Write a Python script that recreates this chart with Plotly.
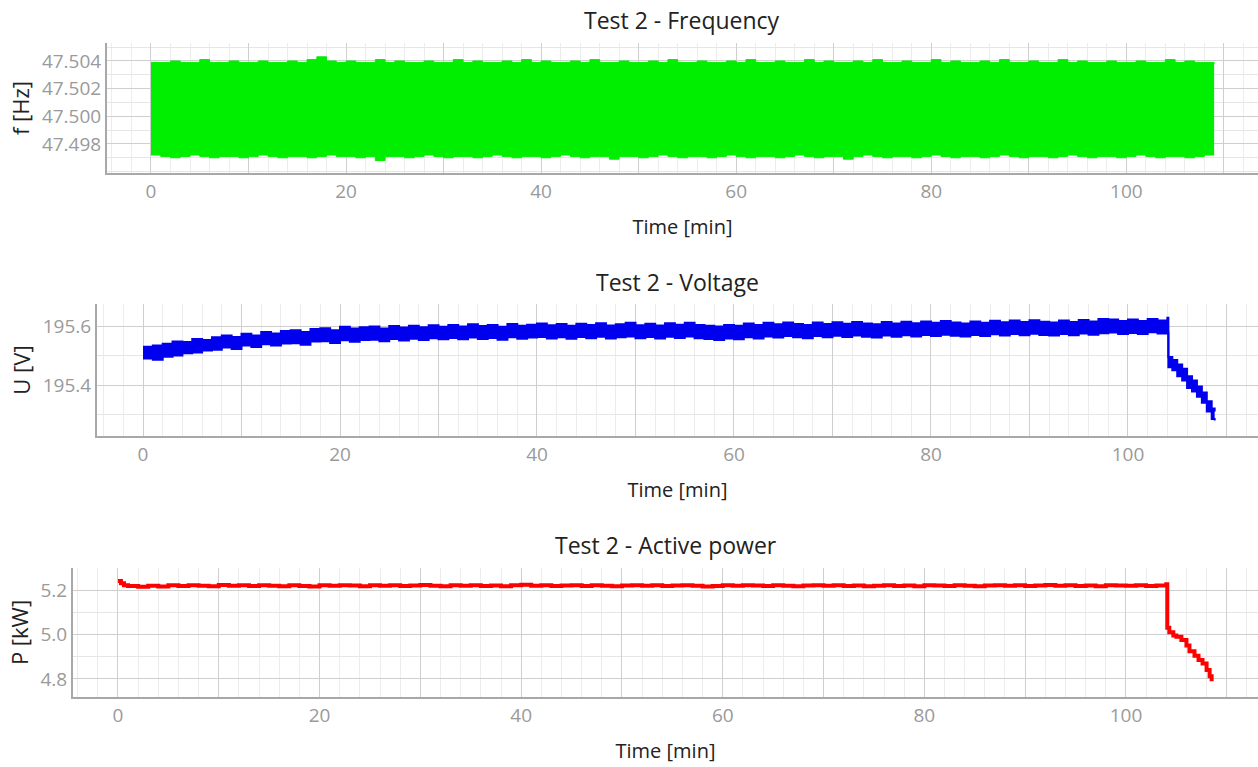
import plotly.graph_objects as go

W, H = 1258, 767

# ---------------- data ----------------
# Frequency band (envelope of the dense signal), sampled each minute
t_f = list(range(0, 110))
f_upper = [
    47.5039, 47.5039, 47.5040, 47.5039, 47.5039, 47.5041, 47.5039, 47.5039, 47.5040, 47.5039,
    47.5039, 47.5040, 47.5039, 47.5039, 47.5040, 47.5039, 47.5041, 47.5043, 47.5040, 47.5039,
    47.5040, 47.5039, 47.5039, 47.5041, 47.5039, 47.5040, 47.5039, 47.5039, 47.5040, 47.5039,
    47.5039, 47.5041, 47.5039, 47.5040, 47.5039, 47.5039, 47.5040, 47.5039, 47.5041, 47.5039,
    47.5040, 47.5039, 47.5039, 47.5040, 47.5039, 47.5041, 47.5039, 47.5039, 47.5040, 47.5039,
    47.5039, 47.5040, 47.5039, 47.5041, 47.5039, 47.5039, 47.5040, 47.5039, 47.5039, 47.5040,
    47.5039, 47.5041, 47.5039, 47.5039, 47.5040, 47.5039, 47.5039, 47.5041, 47.5039, 47.5040,
    47.5039, 47.5039, 47.5040, 47.5039, 47.5041, 47.5039, 47.5039, 47.5040, 47.5039, 47.5039,
    47.5041, 47.5039, 47.5040, 47.5039, 47.5039, 47.5040, 47.5039, 47.5041, 47.5039, 47.5039,
    47.5040, 47.5039, 47.5039, 47.5041, 47.5039, 47.5040, 47.5039, 47.5039, 47.5040, 47.5039,
    47.5039, 47.5040, 47.5039, 47.5039, 47.5041, 47.5039, 47.5040, 47.5039, 47.5039, 47.5038,
]
f_lower = [
    47.4972, 47.4971, 47.4970, 47.4971, 47.4972, 47.4971, 47.4970, 47.4971, 47.4971, 47.4970,
    47.4971, 47.4972, 47.4971, 47.4970, 47.4971, 47.4971, 47.4970, 47.4971, 47.4972, 47.4971,
    47.4971, 47.4970, 47.4971, 47.4968, 47.4971, 47.4971, 47.4970, 47.4971, 47.4972, 47.4971,
    47.4970, 47.4971, 47.4971, 47.4970, 47.4971, 47.4972, 47.4971, 47.4970, 47.4971, 47.4971,
    47.4970, 47.4971, 47.4972, 47.4971, 47.4970, 47.4971, 47.4971, 47.4969, 47.4971, 47.4971,
    47.4970, 47.4971, 47.4972, 47.4971, 47.4970, 47.4971, 47.4971, 47.4970, 47.4971, 47.4972,
    47.4971, 47.4970, 47.4971, 47.4971, 47.4970, 47.4971, 47.4972, 47.4971, 47.4970, 47.4971,
    47.4971, 47.4969, 47.4971, 47.4972, 47.4971, 47.4970, 47.4971, 47.4971, 47.4970, 47.4971,
    47.4972, 47.4971, 47.4970, 47.4971, 47.4971, 47.4970, 47.4971, 47.4972, 47.4971, 47.4970,
    47.4971, 47.4971, 47.4970, 47.4971, 47.4972, 47.4971, 47.4970, 47.4971, 47.4971, 47.4970,
    47.4971, 47.4972, 47.4971, 47.4970, 47.4971, 47.4971, 47.4970, 47.4971, 47.4972, 47.4972,
]

# Voltage band (upper / lower envelope)
t_v = list(range(0, 104)) + [104.0, 104.1, 104.5, 105.0, 105.5, 106.0, 106.5, 107.0, 107.5, 108.0, 108.5, 108.8]
v_upper = [
    195.530, 195.534, 195.540, 195.548, 195.546, 195.556, 195.553, 195.562, 195.568, 195.563,
    195.574, 195.568, 195.580, 195.575, 195.583, 195.586, 195.580, 195.590, 195.593, 195.586,
    195.598, 195.592, 195.596, 195.599, 195.592, 195.600, 195.595, 195.601, 195.596, 195.603,
    195.598, 195.604, 195.599, 195.606, 195.600, 195.604, 195.598, 195.607, 195.601, 195.605,
    195.609, 195.603, 195.607, 195.601, 195.608, 195.604, 195.610, 195.602, 195.606, 195.611,
    195.603, 195.608, 195.602, 195.610, 195.605, 195.611, 195.604, 195.601, 195.599, 195.604,
    195.601, 195.609, 195.604, 195.611, 195.606, 195.612, 195.607, 195.604, 195.612, 195.607,
    195.613, 195.608, 195.614, 195.609, 195.606, 195.614, 195.609, 195.615, 195.610, 195.616,
    195.611, 195.617, 195.612, 195.609, 195.616, 195.611, 195.618, 195.613, 195.619, 195.614,
    195.620, 195.615, 195.612, 195.619, 195.614, 195.621, 195.616, 195.624, 195.622, 195.617,
    195.622, 195.617, 195.624, 195.619,
    195.628, 195.495, 195.485, 195.470, 195.455, 195.430, 195.415, 195.395, 195.375, 195.345, 195.320, 195.310,
]
v_lower = [
    195.490, 195.486, 195.496, 195.500, 195.508, 195.510, 195.517, 195.520, 195.527, 195.522,
    195.534, 195.529, 195.538, 195.534, 195.541, 195.542, 195.537, 195.548, 195.549, 195.543,
    195.552, 195.547, 195.553, 195.554, 195.549, 195.556, 195.551, 195.557, 195.553, 195.559,
    195.555, 195.560, 195.555, 195.561, 195.556, 195.560, 195.554, 195.562, 195.557, 195.561,
    195.563, 195.558, 195.562, 195.557, 195.563, 195.559, 195.564, 195.558, 195.562, 195.565,
    195.559, 195.563, 195.558, 195.564, 195.560, 195.565, 195.559, 195.556, 195.553, 195.558,
    195.555, 195.562, 195.558, 195.565, 195.561, 195.566, 195.562, 195.559, 195.566, 195.562,
    195.567, 195.563, 195.568, 195.564, 195.561, 195.568, 195.564, 195.569, 195.565, 195.570,
    195.566, 195.571, 195.567, 195.565, 195.570, 195.566, 195.572, 195.568, 195.573, 195.569,
    195.574, 195.570, 195.568, 195.573, 195.569, 195.575, 195.571, 195.576, 195.578, 195.573,
    195.577, 195.573, 195.579, 195.575,
    195.578, 195.460, 195.450, 195.430, 195.415, 195.390, 195.378, 195.360, 195.340, 195.310, 195.285, 195.280,
]

# Active power
t_p = [0.0, 0.3, 0.6] + list(range(1, 104)) + [104.0, 104.1, 104.3, 104.7, 105.0, 105.5, 106.0, 106.3, 106.8, 107.2, 107.6, 108.0, 108.3, 108.5]
p_val = [
    5.240, 5.230, 5.222,
    5.218, 5.215, 5.219, 5.216, 5.221, 5.218, 5.222, 5.219, 5.217,
    5.223, 5.219, 5.221, 5.218, 5.222, 5.219, 5.217, 5.221, 5.218, 5.216,
    5.221, 5.219, 5.222, 5.220, 5.217, 5.221, 5.219, 5.222, 5.218, 5.220,
    5.223, 5.219, 5.217, 5.221, 5.219, 5.222, 5.218, 5.220, 5.217, 5.221,
    5.224, 5.219, 5.221, 5.218, 5.220, 5.222, 5.218, 5.221, 5.219, 5.217,
    5.220, 5.222, 5.219, 5.221, 5.218, 5.220, 5.222, 5.219, 5.216, 5.218,
    5.221, 5.219, 5.222, 5.220, 5.218, 5.221, 5.219, 5.217, 5.220, 5.222,
    5.219, 5.221, 5.218, 5.220, 5.217, 5.219, 5.221, 5.218, 5.220, 5.217,
    5.222, 5.220, 5.218, 5.221, 5.219, 5.217, 5.220, 5.222, 5.219, 5.221,
    5.218, 5.220, 5.223, 5.219, 5.221, 5.218, 5.220, 5.217, 5.222, 5.220,
    5.219, 5.221, 5.218, 5.220,
    5.226, 5.030, 5.010, 4.995, 4.990, 4.975, 4.950, 4.925, 4.905, 4.885, 4.870, 4.840, 4.812, 4.790,
]

titles = ["Test 2 - Frequency", "Test 2 - Voltage", "Test 2 - Active power"]
y_titles = ["f [Hz]", "U [V]", "P [kW]"]
x_title = "Time [min]"

x_tickvals = list(range(0, 120, 10))
x_ticktext = [str(v) if v % 20 == 0 else "" for v in x_tickvals]

# ---------------- layout geometry (pixels) ----------------
FONT = "Open Sans"
panels = [
    dict(x0=107, x1=1258, y0=43, y1=173, xr=[-4.51, 113.5], yr=[47.4959, 47.5053],
         ytv=[47.498, 47.500, 47.502, 47.504], ytt=["47.498", "47.500", "47.502", "47.504"], ydm=0.001,
         title_y=20),
    dict(x0=97, x1=1258, y0=304, y1=436, xr=[-4.67, 113.2], yr=[195.227, 195.675],
         ytv=[195.4, 195.6], ytt=["195.4", "195.6"], ydm=0.1, title_y=282),
    dict(x0=73, x1=1258, y0=568, y1=697, xr=[-4.46, 113.1], yr=[4.719, 5.299],
         ytv=[4.8, 5.0, 5.2], ytt=["4.8", "5.0", "5.2"], ydm=0.1, title_y=545),
]

fig = go.Figure()

# frequency band
fig.add_trace(go.Scatter(x=t_f, y=f_lower, mode="lines", line=dict(color="#00ee00", width=1, shape="hv"),
                         xaxis="x", yaxis="y", showlegend=False, hoverinfo="skip"))
fig.add_trace(go.Scatter(x=t_f, y=f_upper, mode="lines", line=dict(color="#00ee00", width=1, shape="hv"),
                         fill="tonexty", fillcolor="#00ee00", xaxis="x", yaxis="y", showlegend=False))
# voltage band
fig.add_trace(go.Scatter(x=t_v, y=v_lower, mode="lines", line=dict(color="#0000ee", width=2, shape="hv"),
                         xaxis="x2", yaxis="y2", showlegend=False, hoverinfo="skip"))
fig.add_trace(go.Scatter(x=t_v, y=v_upper, mode="lines", line=dict(color="#0000ee", width=2, shape="hv"),
                         fill="tonexty", fillcolor="#0000ee", xaxis="x2", yaxis="y2", showlegend=False))
# power line
fig.add_trace(go.Scatter(x=t_p, y=p_val, mode="lines", line=dict(color="#ff0000", width=4, shape="hv"),
                         xaxis="x3", yaxis="y3", showlegend=False))

annotations = []
for i, p in enumerate(panels):
    sfx = "" if i == 0 else str(i + 1)
    xd = [p["x0"] / W, p["x1"] / W]
    yd = [1 - p["y1"] / H, 1 - p["y0"] / H]
    fig.layout["xaxis" + sfx] = dict(
        domain=xd, range=p["xr"], anchor="y" + sfx,
        tickvals=x_tickvals, ticktext=x_ticktext,
        showgrid=True, gridcolor="#cfcfcf", gridwidth=1,
        minor=dict(dtick=2, tick0=0, showgrid=True, gridcolor="#ececec", gridwidth=1),
        showline=True, linecolor="#a8a8a8", linewidth=2,
        zeroline=False, ticks="",
        tickfont=dict(family=FONT, size=19, color="#9a9a9a"),
        title=dict(text=x_title, font=dict(family=FONT, size=20, color="#222222"), standoff=17),
    )
    fig.layout["yaxis" + sfx] = dict(
        domain=yd, range=p["yr"], anchor="x" + sfx,
        tickvals=p["ytv"], ticktext=p["ytt"],
        showgrid=True, gridcolor="#cfcfcf", gridwidth=1,
        minor=dict(dtick=p["ydm"], showgrid=True, gridcolor="#e6e6e6", gridwidth=1),
        showline=True, linecolor="#a8a8a8", linewidth=2,
        zeroline=False, ticks="",
        tickfont=dict(family=FONT, size=19, color="#9a9a9a"),
        title=dict(text=y_titles[i], font=dict(family=FONT, size=22, color="#222222"), standoff=6),
    )
    annotations.append(dict(
        text=titles[i], xref="paper", yref="paper",
        x=(p["x0"] + p["x1"]) / 2 / W, y=1 - p["title_y"] / H,
        xanchor="center", yanchor="middle", showarrow=False,
        font=dict(family=FONT, size=23, color="#222222"),
    ))

fig.update_layout(
    width=W, height=H, autosize=False,
    margin=dict(l=0, r=0, t=0, b=0),
    paper_bgcolor="white", plot_bgcolor="white",
    annotations=annotations,
    showlegend=False,
)

fig.write_html("out.html", config={"displayModeBar": False},
               post_script="document.body.style.margin='0';document.body.style.overflow='hidden';")
